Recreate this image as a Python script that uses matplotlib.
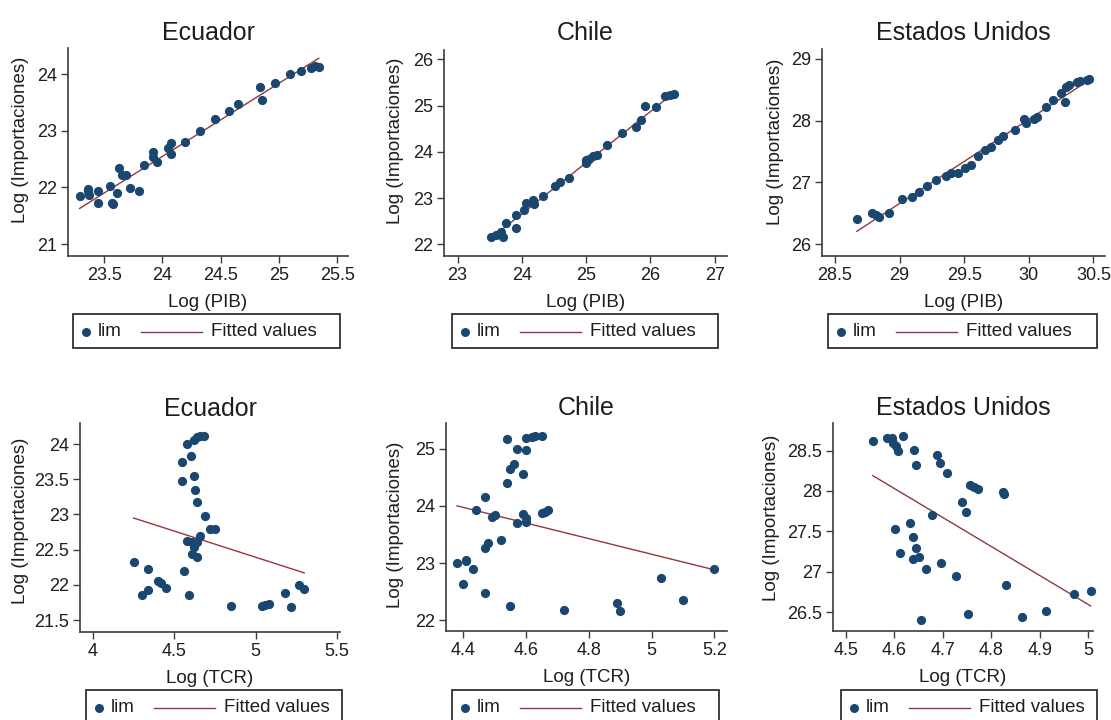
import numpy as np
import matplotlib
matplotlib.use("Agg")
import matplotlib.pyplot as plt
from matplotlib.lines import Line2D
from matplotlib.patches import Rectangle

plt.rcParams['font.family'] = ['Liberation Sans', 'DejaVu Sans']

# --- Ecuador: Log(PIB) vs Log(Importaciones)
ecu_pib_x = [23.29, 23.36, 23.36, 23.37, 23.45, 23.45, 23.55, 23.57, 23.58, 23.61, 23.63,
             23.65, 23.69, 23.72, 23.80, 23.84, 23.92, 23.92, 23.95, 24.05, 24.07, 24.07,
             24.19, 24.32, 24.45, 24.57, 24.65, 24.84, 24.85, 24.96, 25.09, 25.19, 25.27,
             25.31, 25.34]
ecu_pib_y = [21.85, 21.93, 21.97, 21.87, 21.93, 21.73, 22.03, 21.72, 21.71, 21.90, 22.34,
             22.22, 22.22, 21.99, 21.93, 22.40, 22.63, 22.54, 22.44, 22.69, 22.59, 22.79,
             22.81, 23.00, 23.20, 23.34, 23.47, 23.77, 23.54, 23.84, 24.00, 24.06, 24.10,
             24.14, 24.13]
ecu_pib_fit_x = [23.29, 25.34]
ecu_pib_fit_y = [21.63, 24.28]

# --- Chile: Log(PIB)
chi_pib_x = [23.52, 23.60, 23.67, 23.71, 23.76, 23.91, 23.91, 24.04, 24.07, 24.17, 24.19,
             24.33, 24.52, 24.60, 24.74, 24.99, 25.00, 25.05, 25.11, 25.17, 25.32, 25.56,
             25.77, 25.85, 25.91, 26.09, 26.23, 26.31, 26.37]
chi_pib_y = [22.15, 22.20, 22.27, 22.15, 22.47, 22.35, 22.63, 22.74, 22.89, 22.96, 22.87,
             23.05, 23.26, 23.35, 23.43, 23.75, 23.82, 23.84, 23.90, 23.93, 24.15, 24.40,
             24.54, 24.69, 24.99, 24.96, 25.21, 25.23, 25.24]
chi_pib_fit_x = [23.52, 26.37]
chi_pib_fit_y = [22.13, 25.28]

# --- Estados Unidos: Log(PIB)
usa_pib_x = [28.67, 28.79, 28.82, 28.84, 28.92, 29.02, 29.10, 29.15, 29.21, 29.28, 29.36,
             29.40, 29.45, 29.51, 29.55, 29.61, 29.66, 29.71, 29.76, 29.80, 29.89, 29.96,
             29.98, 30.04, 30.06, 30.13, 30.19, 30.25, 30.28, 30.29, 30.31, 30.37, 30.40,
             30.45, 30.47]
usa_pib_y = [26.41, 26.50, 26.48, 26.44, 26.51, 26.74, 26.76, 26.84, 26.95, 27.04, 27.11,
             27.16, 27.15, 27.23, 27.29, 27.43, 27.53, 27.58, 27.69, 27.75, 27.85, 28.02,
             27.96, 28.02, 28.06, 28.22, 28.34, 28.45, 28.31, 28.55, 28.58, 28.62, 28.65,
             28.66, 28.68]
usa_pib_fit_x = [28.67, 30.47]
usa_pib_fit_y = [26.21, 28.66]

# --- Ecuador: Log(TCR)
ecu_tcr_x = [4.25, 4.30, 4.34, 4.34, 4.40, 4.42, 4.45, 4.55, 4.55, 4.56, 4.58, 4.59, 4.60,
             4.58, 4.61, 4.62, 4.62, 4.64, 4.66, 4.68, 4.63, 4.64, 4.62, 4.64, 4.61, 4.64,
             4.66, 4.69, 4.72, 4.75, 4.85, 5.04, 5.06, 5.08, 5.18, 5.22, 5.27, 5.30]
ecu_tcr_y = [22.33, 21.86, 22.22, 21.93, 22.05, 22.03, 21.96, 23.75, 23.47, 22.20, 24.00,
             21.86, 23.83, 22.63, 22.61, 23.54, 24.06, 24.10, 24.12, 24.12, 23.35, 23.18,
             22.54, 22.61, 22.44, 22.39, 22.69, 22.98, 22.79, 22.80, 21.70, 21.70, 21.71,
             21.73, 21.89, 21.69, 22.00, 21.94]
ecu_tcr_fit_x = [4.25, 5.30]
ecu_tcr_fit_y = [22.95, 22.17]

# --- Chile: Log(TCR)
chi_tcr_x = [4.38, 4.41, 4.41, 4.40, 4.43, 4.44, 4.47, 4.48, 4.47, 4.47, 4.49, 4.50, 4.52,
             4.54, 4.54, 4.55, 4.56, 4.55, 4.57, 4.57, 4.59, 4.59, 4.60, 4.60, 4.60, 4.60,
             4.62, 4.63, 4.65, 4.65, 4.66, 4.67, 4.72, 4.89, 4.90, 5.03, 5.10, 5.20]
chi_tcr_y = [23.00, 23.04, 23.05, 22.63, 22.89, 23.92, 23.26, 23.35, 22.47, 24.15, 23.80,
             23.84, 23.40, 25.17, 24.40, 24.64, 24.74, 22.25, 24.99, 23.70, 24.56, 23.86,
             23.78, 23.71, 24.97, 25.19, 25.20, 25.23, 25.23, 23.88, 23.90, 23.92, 22.18,
             22.30, 22.16, 22.73, 22.36, 22.89]
chi_tcr_fit_x = [4.38, 5.20]
chi_tcr_fit_y = [24.00, 22.88]

# --- Estados Unidos: Log(TCR)
usa_tcr_x = [4.556, 4.585, 4.596, 4.598, 4.603, 4.608, 4.618, 4.640, 4.646, 4.688, 4.695,
             4.709, 4.757, 4.764, 4.773, 4.825, 4.826, 4.739, 4.748, 4.679, 4.601, 4.633,
             4.638, 4.645, 4.613, 4.638, 4.651, 4.666, 4.697, 4.727, 4.831, 4.656, 4.752,
             4.864, 4.913, 4.970, 5.005]
usa_tcr_y = [28.62, 28.65, 28.66, 28.59, 28.56, 28.50, 28.68, 28.51, 28.32, 28.45, 28.35,
             28.22, 28.08, 28.05, 28.02, 27.99, 27.96, 27.86, 27.74, 27.70, 27.53, 27.60,
             27.43, 27.30, 27.23, 27.16, 27.18, 27.04, 27.11, 26.95, 26.84, 26.40, 26.48,
             26.44, 26.52, 26.73, 26.76]
usa_tcr_fit_x = [4.556, 5.005]
usa_tcr_fit_y = [28.19, 26.58]

W, H = 1111, 720
DOT = '#1a476f'
FIT = '#93383e'
AXC = '#3c3c3c'
TXT = '#1e1e1e'

fig = plt.figure(figsize=(W / 100, H / 100), dpi=100)


def fx(px):
    return px / W


def fy(py):
    return 1 - py / H


def px_axes(l, t, r, b):
    return fig.add_axes([fx(l), fy(b), (r - l) / W, (b - t) / H])


# title, axes box (px), data, fit, limits, ticks, xlabel, ylabel centre x/y, legend box
panels = [
    ("Ecuador", (68, 48, 348, 256), ecu_pib_x, ecu_pib_y, ecu_pib_fit_x, ecu_pib_fit_y,
     (23.19, 25.59), (20.79, 24.46), [23.5, 24, 24.5, 25, 25.5], [21, 22, 23, 24],
     "Log (PIB)", (21, 140), (73, 314, 340, 348)),
    ("Chile", (444, 50, 727, 256), chi_pib_x, chi_pib_y, chi_pib_fit_x, chi_pib_fit_y,
     (22.79, 27.19), (21.75, 26.2), [23, 24, 25, 26, 27], [22, 23, 24, 25, 26],
     "Log (PIB)", (396, 141), (452, 314, 718, 348)),
    ("Estados Unidos", (822, 49, 1105, 256), usa_pib_x, usa_pib_y, usa_pib_fit_x, usa_pib_fit_y,
     (28.40, 30.59), (25.81, 29.16), [28.5, 29, 29.5, 30, 30.5], [26, 27, 28, 29],
     "Log (PIB)", (776, 142), (828, 314, 1097, 348)),
    ("Ecuador", (80, 423, 340, 632), ecu_tcr_x, ecu_tcr_y, ecu_tcr_fit_x, ecu_tcr_fit_y,
     (3.92, 5.52), (21.33, 24.30), [4, 4.5, 5, 5.5], [21.5, 22, 22.5, 23, 23.5, 24],
     "Log (TCR)", (21, 521), (86, 690, 342, 726)),
    ("Chile", (446, 423, 727, 631), chi_tcr_x, chi_tcr_y, chi_tcr_fit_x, chi_tcr_fit_y,
     (4.345, 5.24), (21.81, 25.45), [4.4, 4.6, 4.8, 5, 5.2], [22, 23, 24, 25],
     "Log (TCR)", (396, 525), (452, 690, 719, 726)),
    ("Estados Unidos", (833, 423, 1093, 631), usa_tcr_x, usa_tcr_y, usa_tcr_fit_x, usa_tcr_fit_y,
     (4.474, 5.01), (26.27, 28.84), [4.5, 4.6, 4.7, 4.8, 4.9, 5], [26.5, 27, 27.5, 28, 28.5],
     "Log (TCR)", (771, 518), (841, 690, 1097, 726)),
]

for title, box, x, y, fit_x, fit_y, xl, yl, xt, yt, xlab, ylab_c, lbox in panels:
    l, t, r, b = box
    ax = px_axes(l, t, r, b)
    ax.scatter(x, y, s=44, color=DOT, zorder=3, linewidths=0, clip_on=False)
    ax.plot(fit_x, fit_y, color=FIT, lw=1.0, zorder=2, clip_on=False)
    ax.set_xlim(*xl)
    ax.set_ylim(*yl)
    ax.set_xticks(xt)
    ax.set_yticks(yt)
    ax.set_xticklabels([f"{v:g}" for v in xt])
    ax.set_yticklabels([f"{v:g}" for v in yt])
    for s in ("top", "right"):
        ax.spines[s].set_visible(False)
    for s in ("left", "bottom"):
        ax.spines[s].set_color(AXC)
        ax.spines[s].set_linewidth(1.2)
    ax.tick_params(direction='out', length=5, width=1, color=AXC,
                   labelsize=13, labelcolor=TXT, pad=3)

    # titles and axis labels placed in pixel terms
    cx = (l + r) / 2
    fig.text(fx(cx), fy(b - 216), title, fontsize=18, color=TXT,
             ha='center', va='baseline')
    fig.text(fx(cx), fy(b + 51), xlab, fontsize=13.5, color=TXT,
             ha='center', va='baseline')
    fig.text(fx(ylab_c[0]), fy(ylab_c[1]), "Log (Importaciones)", fontsize=13.5,
             color=TXT, rotation=90, ha='center', va='center')

    # legend box: marker "lim" then line "Fitted values"
    bl, bt, br, bb = lbox
    fig.patches.append(Rectangle((fx(bl), fy(bb)), (br - bl) / W, (bb - bt) / H,
                                 transform=fig.transFigure, fill=False,
                                 edgecolor='#303030', lw=1.3))
    cy = bt + 18
    fig.lines.append(Line2D([fx(bl + 13)], [fy(cy)], ls='none', marker='o', ms=6.5,
                            color=DOT, markeredgewidth=0, transform=fig.transFigure))
    fig.text(fx(bl + 25), fy(cy), "lim", fontsize=13.5, color=TXT, ha='left', va='center')
    fig.lines.append(Line2D([fx(bl + 68), fx(bl + 129)], [fy(cy), fy(cy)], color=FIT,
                            lw=1.0, transform=fig.transFigure))
    fig.text(fx(bl + 138), fy(cy), "Fitted values", fontsize=13.5, color=TXT,
             ha='left', va='center')

fig.savefig("out.png", dpi=100)
